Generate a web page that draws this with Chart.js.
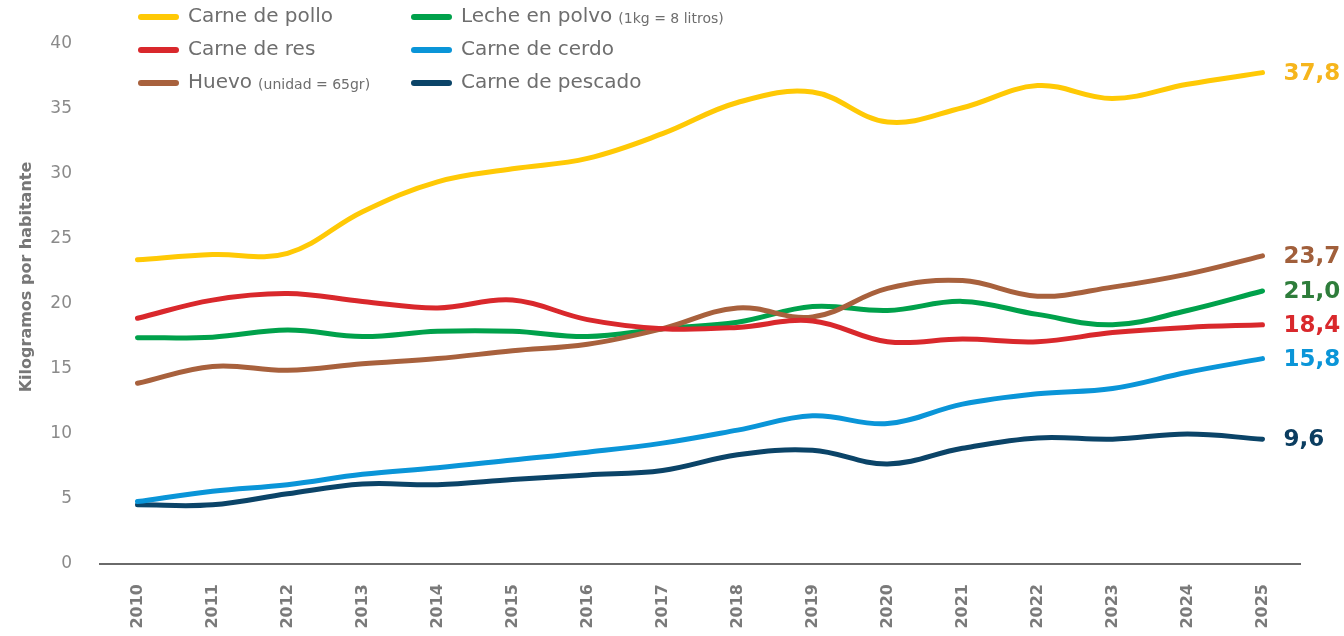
<!DOCTYPE html>
<html>
<head>
<meta charset="utf-8">
<script src="https://cdn.jsdelivr.net/npm/chart.js@4.4.1/dist/chart.umd.min.js"></script>
<style>
    html, body { margin: 0; padding: 0; background: #fff; }
    #wrap { width: 1344px; height: 636px; }
</style>
</head>
<body>
<div id="wrap"><canvas id="chart" width="1344" height="636"></canvas></div>
<script>
    const years = ["2010", "2011", "2012", "2013", "2014", "2015", "2016", "2017",
        "2018", "2019", "2020", "2021", "2022", "2023", "2024", "2025"];

    const pollo = [23.4, 23.8, 23.9, 27.1, 29.4, 30.4, 31.2, 33.1, 35.5, 36.3, 34.0, 35.1, 36.8, 35.8, 36.9, 37.8];
    const res = [18.9, 20.3, 20.8, 20.2, 19.7, 20.3, 18.8, 18.1, 18.2, 18.7, 17.1, 17.3, 17.1, 17.8, 18.2, 18.4];
    const huevo = [13.9, 15.2, 14.9, 15.4, 15.8, 16.4, 16.9, 18.1, 19.7, 19.0, 21.2, 21.8, 20.6, 21.3, 22.3, 23.7];
    const leche = [17.4, 17.45, 18.0, 17.5, 17.9, 17.9, 17.5, 18.1, 18.6, 19.8, 19.5, 20.2, 19.2, 18.4, 19.5, 21.0];
    const cerdo = [4.8, 5.6, 6.1, 6.9, 7.4, 8.0, 8.6, 9.3, 10.3, 11.4, 10.8, 12.3, 13.1, 13.5, 14.75, 15.8];
    const pescado = [4.55, 4.55, 5.4, 6.15, 6.1, 6.5, 6.85, 7.2, 8.4, 8.75, 7.7, 8.9, 9.7, 9.6, 10.0, 9.6];

    const seriesNames = ["Carne de pollo", "Carne de res", "Huevo", "Leche en polvo", "Carne de cerdo", "Carne de pescado"];
    const seriesNotes = ["", "", "(unidad = 65gr)", "(1kg = 8 litros)", "", ""];
    const seriesData = [pollo, res, huevo, leche, cerdo, pescado];
    const lineColors = ["#ffc905", "#d9282c", "#a8613d", "#00a14b", "#0a95d8", "#0b4468"];
    const labelColors = ["#f6b51c", "#d9282c", "#a15f3b", "#2e7d3b", "#0a95d8", "#0b3d60"];

    const FONT = "'DejaVu Sans', sans-serif";
    const GRAY = "#6e6e6e";

    function fmt(v) {
        return v.toFixed(1).replace(".", ",");
    }

    // legend, end values and y title are drawn by hand
    const extras = {
        id: "extras",
        afterDatasetsDraw(chart) {
            const ctx = chart.ctx;
            ctx.save();
            ctx.font = "bold 23px " + FONT;
            ctx.textAlign = "left";
            ctx.textBaseline = "middle";
            chart.data.datasets.forEach((ds, i) => {
                const pts = chart.getDatasetMeta(i).data;
                const last = pts[pts.length - 1];
                ctx.fillStyle = labelColors[i];
                ctx.fillText(fmt(ds.data[ds.data.length - 1]), last.x + 21, last.y + 1);
            });
            ctx.restore();
        },
        afterDraw(chart) {
            const ctx = chart.ctx;
            ctx.save();
            // legend, two columns of three
            const cols = [138, 411];
            const rows = [17, 50, 83];
            seriesNames.forEach((name, i) => {
                const x = cols[Math.floor(i / 3)];
                const y = rows[i % 3];
                ctx.strokeStyle = lineColors[i];
                ctx.lineWidth = 6;
                ctx.lineCap = "round";
                ctx.beginPath();
                ctx.moveTo(x + 3, y);
                ctx.lineTo(x + 38, y);
                ctx.stroke();
                ctx.fillStyle = GRAY;
                ctx.textBaseline = "middle";
                ctx.textAlign = "left";
                ctx.font = "20px " + FONT;
                ctx.fillText(name, x + 50, y);
                if (seriesNotes[i]) {
                    const w = ctx.measureText(name).width;
                    ctx.font = "14px " + FONT;
                    ctx.fillText(seriesNotes[i], x + 50 + w + 6, y + 2);
                }
            });
            // y axis title
            ctx.translate(27, 277);
            ctx.rotate(-Math.PI / 2);
            ctx.font = "bold 16px " + FONT;
            ctx.fillStyle = "#777";
            ctx.textAlign = "center";
            ctx.textBaseline = "middle";
            ctx.fillText("Kilogramos por habitante", 0, 0);
            ctx.restore();
        }
    };

    new Chart(document.getElementById("chart"), {
        type: "line",
        data: {
            labels: years,
            datasets: seriesData.map((d, i) => ({
                label: seriesNames[i],
                data: d,
                borderColor: lineColors[i],
                backgroundColor: "transparent",
                borderWidth: 5,
                borderCapStyle: "round",
                borderJoinStyle: "round",
                pointRadius: 0,
                tension: 0.38
            }))
        },
        options: {
            responsive: false,
            animation: false,
            devicePixelRatio: 1,
            layout: { padding: { top: 44, right: 44, left: 0, bottom: 0 } },
            plugins: {
                legend: { display: false },
                tooltip: { enabled: false }
            },
            scales: {
                x: {
                    offset: true,
                    afterFit: s => { s.height = 72; },
                    grid: { display: false },
                    border: { display: true, color: "#6a6a6a", width: 2 },
                    ticks: {
                        color: "#7a7a7a",
                        font: { family: FONT, size: 16, weight: "bold" },
                        minRotation: 90,
                        maxRotation: 90,
                        padding: 12
                    }
                },
                y: {
                    min: 0,
                    max: 40,
                    afterFit: s => { s.width = 100; },
                    grid: { display: false },
                    border: { display: false },
                    ticks: {
                        stepSize: 5,
                        color: "#8a8a8a",
                        font: { family: FONT, size: 17 },
                        padding: 20
                    }
                }
            }
        },
        plugins: [extras]
    });
</script>
</body>
</html>
